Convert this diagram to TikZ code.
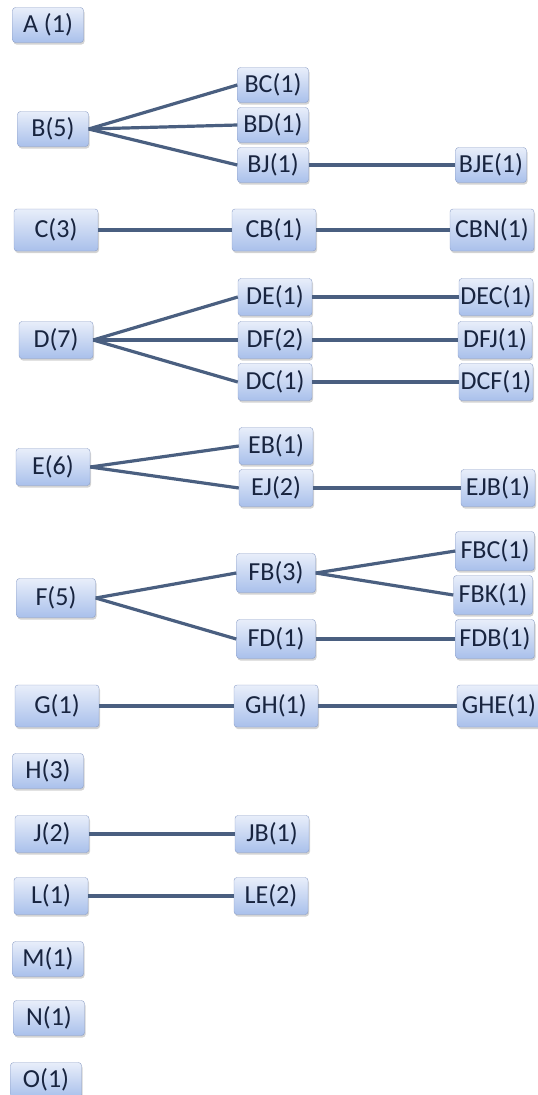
\documentclass[tikz,border=0pt]{standalone}
\usepackage{fontspec}
\setmainfont{Carlito}
\usepackage{tikz}
\usetikzlibrary{shadows}
\definecolor{boxtop}{HTML}{E8EEFA}
\definecolor{boxbot}{HTML}{A9C0EB}
\definecolor{boxline}{HTML}{8C9EC6}
\definecolor{linkcol}{HTML}{4A5F80}
\definecolor{textcol}{HTML}{18243F}
\tikzset{tag/.style = {draw = boxline, rounded corners = 3pt,
                       top color = boxtop, bottom color = boxbot,
                       text = textcol, inner sep = 0pt,
                       font = \fontsize{26}{30}\selectfont,
                       drop shadow = {shadow xshift = 1pt, shadow yshift = -2pt,
                                      opacity = 0.35}},
         tagsmall/.style = {tag, minimum width = 71pt, minimum height = 35pt},
         tagmid/.style = {tag, minimum width = 74pt, minimum height = 37pt},
         tagbig/.style = {tag, minimum width = 79pt, minimum height = 39pt},
         tagwide/.style = {tag, minimum width = 84pt, minimum height = 42pt},
         link/.style = {draw = linkcol, line width = 3.2pt}}

\begin{document}
\begin{tikzpicture}[x = 1pt, y = -1pt]
      \useasboundingbox (0, 0) rectangle (538, 1095);

      \node [tagsmall] (A) at (48, 25) {A (1)};

      \node [tagsmall] (B) at (53, 129) {B(5)};
      \node [tagsmall] (BC) at (273, 85) {BC(1)};
      \node [tagsmall] (BD) at (273, 125) {BD(1)};
      \node [tagsmall] (BJ) at (273, 165) {BJ(1)};
      \node [tagsmall] (BJE) at (491, 165) {BJE(1)};
      \draw [link] (B.east) -- (BC.west);
      \draw [link] (B.east) -- (BD.west);
      \draw [link] (B.east) -- (BJ.west);
      \draw [link] (BJ.east) -- (BJE.west);

      \node [tagwide] (C) at (56, 230) {C(3)};
      \node [tagwide] (CB) at (274, 230) {CB(1)};
      \node [tagwide] (CBN) at (492, 230) {CBN(1)};
      \draw [link] (C.east) -- (CB.west);
      \draw [link] (CB.east) -- (CBN.west);

      \node [tagmid] (D) at (56, 340) {D(7)};
      \node [tagmid] (DE) at (275, 297) {DE(1)};
      \node [tagmid] (DF) at (275, 340) {DF(2)};
      \node [tagmid] (DC) at (275, 382) {DC(1)};
      \node [tagmid] (DEC) at (496, 297) {DEC(1)};
      \node [tagmid] (DFJ) at (495, 340) {DFJ(1)};
      \node [tagmid] (DCF) at (496, 382) {DCF(1)};
      \draw [link] (D.east) -- (DE.west);
      \draw [link] (D.east) -- (DF.west);
      \draw [link] (D.east) -- (DC.west);
      \draw [link] (DE.east) -- (DEC.west);
      \draw [link] (DF.east) -- (DFJ.west);
      \draw [link] (DC.east) -- (DCF.west);

      \node [tagmid] (E) at (53, 467) {E(6)};
      \node [tagmid] (EB) at (276, 446) {EB(1)};
      \node [tagmid] (EJ) at (276, 488) {EJ(2)};
      \node [tagmid] (EJB) at (498, 488) {EJB(1)};
      \draw [link] (E.east) -- (EB.west);
      \draw [link] (E.east) -- (EJ.west);
      \draw [link] (EJ.east) -- (EJB.west);

      \node [tagbig] (F) at (56, 598) {F(5)};
      \node [tagbig] (FB) at (276, 573) {FB(3)};
      \node [tagbig] (FD) at (276, 639) {FD(1)};
      \node [tagbig] (FBC) at (495, 551) {FBC(1)};
      \node [tagbig] (FBK) at (493, 595) {FBK(1)};
      \node [tagbig] (FDB) at (495, 639) {FDB(1)};
      \draw [link] (F.east) -- (FB.west);
      \draw [link] (F.east) -- (FD.west);
      \draw [link] (FB.east) -- (FBC.west);
      \draw [link] (FB.east) -- (FBK.west);
      \draw [link] (FD.east) -- (FDB.west);

      \node [tagwide] (G) at (57, 706) {G(1)};
      \node [tagwide] (GH) at (276, 706) {GH(1)};
      \node [tagwide] (GHE) at (499, 706) {GHE(1)};
      \draw [link] (G.east) -- (GH.west);
      \draw [link] (GH.east) -- (GHE.west);

      \node [tagsmall] (H) at (48, 771) {H(3)};

      \node [tagmid] (J) at (52, 834) {J(2)};
      \node [tagmid] (JB) at (272, 834) {JB(1)};
      \draw [link] (J.east) -- (JB.west);

      \node [tagmid] (L) at (51, 896) {L(1)};
      \node [tagmid] (LE) at (271, 896) {LE(2)};
      \draw [link] (L.east) -- (LE.west);

      \node [tagsmall] (M) at (48, 959) {M(1)};
      \node [tagsmall] (N) at (49, 1018) {N(1)};
      \node [tagsmall] (O) at (46, 1080) {O(1)};
    \end{tikzpicture}
\end{document}
